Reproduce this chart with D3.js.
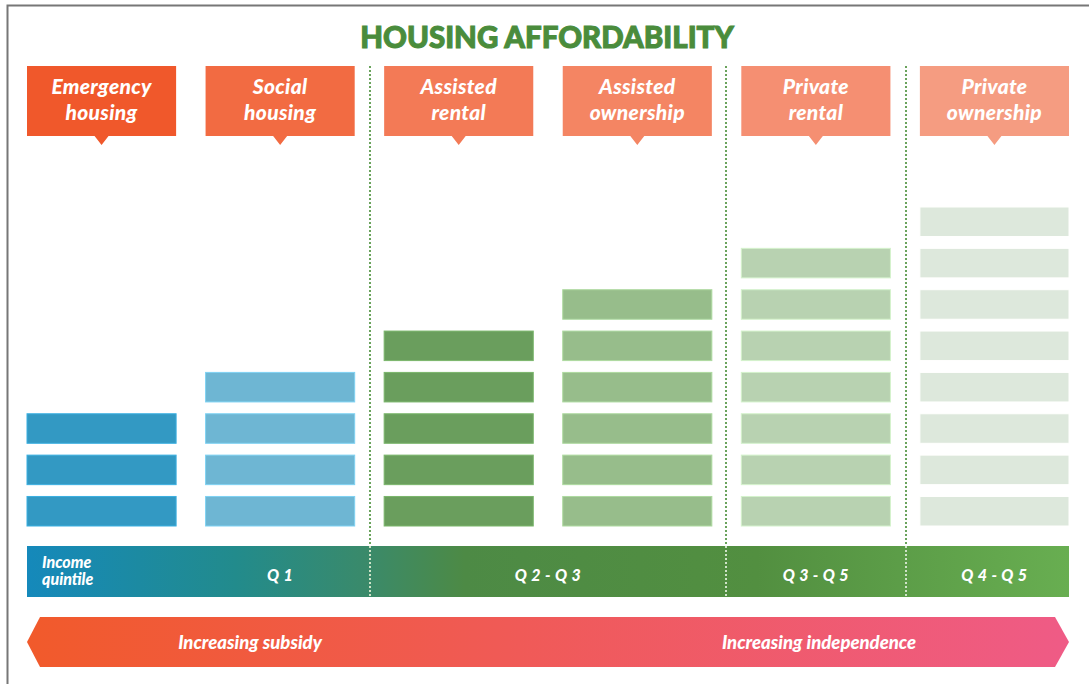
<!DOCTYPE html>
<html>
<head>
<meta charset="utf-8">
<script src="https://cdn.jsdelivr.net/npm/d3@7"></script>
<style>
  body { margin: 0; background: #fff; }
  svg text { font-family: Lato, "Open Sans", sans-serif; }
</style>
</head>
<body>
<div id="chart"></div>
<script>
// housing types, left to right
const categories = ["Emergency housing", "Social housing", "Assisted rental", "Assisted ownership", "Private rental", "Private ownership"];
const headerLines = [["Emergency", "housing"], ["Social", "housing"], ["Assisted", "rental"], ["Assisted", "ownership"], ["Private", "rental"], ["Private", "ownership"]];
// number of stacked bars per housing type
const barCounts = [3, 4, 5, 6, 7, 8];
const headerColors = ["#f0582b", "#f26b42", "#f37a56", "#f48563", "#f58f72", "#f59c81"];
const barColors = ["#3399c3", "#6eb6d3", "#6a9e5d", "#97bd8b", "#b8d2b1", "#dde8dc"];
// income quintile bands: label and column span
const quintiles = [
    { label: "Q 1", from: 1, to: 1 },
    { label: "Q 2 - Q 3", from: 2, to: 3 },
    { label: "Q 3 - Q 5", from: 4, to: 4 },
    { label: "Q 4 - Q 5", from: 5, to: 5 }
];
const arrowLabels = ["Increasing subsidy", "Increasing independence"];

const width = 1089, height = 684;

const svg = d3.select("#chart")
    .append("svg")
    .attr("width", width)
    .attr("height", height);

const defs = svg.append("defs");

const qGrad = defs.append("linearGradient").attr("id", "qgrad");
[["0%", "#1589bb"], ["20%", "#228b8c"], ["33%", "#3b8a69"], ["42%", "#4d8a45"], ["70%", "#528f40"], ["100%", "#68ae51"]]
    .forEach(s => qGrad.append("stop").attr("offset", s[0]).attr("stop-color", s[1]));

const aGrad = defs.append("linearGradient").attr("id", "agrad");
[["0%", "#f15a2b"], ["45%", "#f05a55"], ["100%", "#ef5b86"]]
    .forEach(s => aGrad.append("stop").attr("offset", s[0]).attr("stop-color", s[1]));

// frame
svg.append("path")
    .attr("d", `M7.5,${height} V5.5 H${width}`)
    .attr("fill", "none")
    .attr("stroke", "#777")
    .attr("stroke-width", 2);

const x = d3.scaleBand()
    .domain(categories)
    .range([27, 1069])
    .paddingInner(0.165);

const y = d3.scaleBand()
    .domain(d3.range(8))
    .range([526, 207])
    .paddingInner(0.286);

const bold = sel => sel
    .attr("fill", "#fff")
    .style("font-weight", 900)
    .style("font-style", "italic");

// title
svg.append("text")
    .attr("x", 547)
    .attr("y", 48)
    .attr("text-anchor", "middle")
    .attr("fill", "#4a8c3c")
    .attr("stroke", "#4a8c3c")
    .attr("stroke-width", 1)
    .style("font-size", "29.5px")
    .style("font-weight", 900)
    .text("HOUSING AFFORDABILITY");

// dotted separators
[370, 726, 906].forEach(dx => {
    svg.append("line")
        .attr("x1", dx).attr("x2", dx)
        .attr("y1", 66).attr("y2", 598)
        .attr("stroke", "#6aa35c")
        .attr("stroke-width", 2)
        .attr("stroke-dasharray", "2,2");
});

// header callouts
const heads = svg.selectAll("g.head")
    .data(categories)
    .enter()
    .append("g")
    .attr("class", "head");

heads.append("path")
    .attr("d", d => {
        const x0 = x(d), x1 = x(d) + x.bandwidth(), c = x0 + x.bandwidth() / 2;
        return `M${x0},66 H${x1} V136 H${c + 7} L${c},145 L${c - 7},136 H${x0} Z`;
    })
    .attr("fill", (d, i) => headerColors[i]);

heads.each(function(d, i) {
    headerLines[i].forEach((line, j) => {
        d3.select(this).append("text")
            .attr("x", x(d) + x.bandwidth() / 2)
            .attr("y", 94 + j * 25.5)
            .attr("text-anchor", "middle")
            .style("font-size", "21px")
            .style("letter-spacing", "0.3px")
            .call(bold)
            .text(line);
    });
});

// stacked bars
categories.forEach((cat, i) => {
    svg.selectAll(null)
        .data(d3.range(barCounts[i]))
        .enter()
        .append("rect")
        .attr("x", x(cat))
        .attr("y", k => y(k))
        .attr("width", x.bandwidth())
        .attr("height", y.bandwidth())
        .attr("fill", barColors[i])
        .attr("stroke", d3.color(barColors[i]).brighter(0.4))
        .attr("stroke-width", 1);
});

// income quintile band
svg.append("rect")
    .attr("x", 27)
    .attr("y", 546)
    .attr("width", 1069 - 27)
    .attr("height", 51)
    .attr("fill", "url(#qgrad)");

// separators over the band
[370, 726, 906].forEach(dx => {
    svg.append("line")
        .attr("x1", dx).attr("x2", dx)
        .attr("y1", 546).attr("y2", 598)
        .attr("stroke", "#cfe3c8")
        .attr("stroke-width", 2)
        .attr("stroke-dasharray", "2,2");
});

["Income", "quintile"].forEach((line, j) => {
    svg.append("text")
        .attr("x", 42)
        .attr("y", 568 + j * 17)
        .style("font-size", "16px")
        .call(bold)
        .text(line);
});

svg.selectAll("text.q")
    .data(quintiles)
    .enter()
    .append("text")
    .attr("class", "q")
    .attr("x", d => (x(categories[d.from]) + x(categories[d.to]) + x.bandwidth()) / 2)
    .attr("y", 581)
    .attr("text-anchor", "middle")
    .style("font-size", "16px")
    .style("letter-spacing", "0.5px")
    .call(bold)
    .text(d => d.label);

// double-headed arrow
svg.append("path")
    .attr("d", "M27,642 L40,617 H1055 L1069,642 L1055,667 H40 Z")
    .attr("fill", "url(#agrad)");

svg.selectAll("text.arrow")
    .data(arrowLabels)
    .enter()
    .append("text")
    .attr("class", "arrow")
    .attr("x", (d, i) => i === 0 ? 250 : 819)
    .attr("y", 649)
    .attr("text-anchor", "middle")
    .style("font-size", "18.5px")
    .call(bold)
    .text(d => d);
</script>
</body>
</html>
